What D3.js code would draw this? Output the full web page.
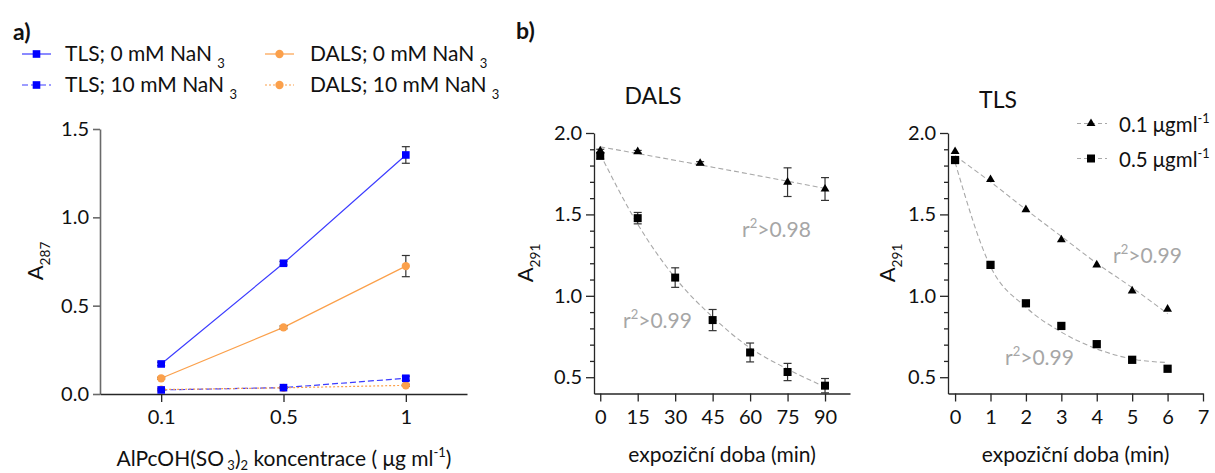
<!DOCTYPE html>
<html>
<head>
<meta charset="utf-8">
<script src="https://cdn.jsdelivr.net/npm/d3@7"></script>
<style>
body { margin: 0; background: #fff; }
svg { display: block; }
text { font-family: Lato, sans-serif; fill: #111; white-space: pre; }
</style>
</head>
<body>
<svg id="chart" width="1215" height="473"></svg>
<script>
// ---- panel a) data ----
const concLabels = ['0.1', '0.5', '1']
const tls0 = [0.17, 0.74, 1.353]
const tls0Err = [0.01, 0.01, 0.047]
const dals0 = [0.089, 0.377, 0.724]
const dals0Err = [0.005, 0.008, 0.06]
const tls10 = [0.023, 0.036, 0.089]
const tls10Err = [0.004, 0.004, 0.012]
const dals10 = [0.025, 0.035, 0.049]
const dals10Err = [0.004, 0.004, 0.006]

// ---- panel b) DALS ----
const dalsTriT = [0, 15, 40, 75, 90]
const dalsTri = [1.89, 1.885, 1.814, 1.698, 1.656]
const dalsTriErr = [0.01, 0.008, 0.01, 0.088, 0.07]
const dalsSqT = [0, 15, 30, 45, 60, 75, 90]
const dalsSq = [1.86, 1.477, 1.112, 0.851, 0.652, 0.532, 0.448]
const dalsSqErr = [0.02, 0.035, 0.06, 0.065, 0.058, 0.053, 0.044]
const dalsTriFitT = [0, 45, 90]
const dalsTriFit = [1.915, 1.79, 1.66]
const dalsSqFit = [1.87, 1.44, 1.11, 0.87, 0.68, 0.55, 0.44]

// ---- panel b) TLS ----
const tlsT = [0, 1, 2, 3, 4, 5, 6]
const tlsTri = [1.886, 1.714, 1.529, 1.344, 1.19, 1.03, 0.918]
const tlsSq = [1.834, 1.19, 0.954, 0.815, 0.703, 0.607, 0.552]
const tlsTriFit = [1.86, 1.70, 1.53, 1.365, 1.20, 1.05, 0.89]
const tlsSqFit = [1.82, 1.18, 0.93, 0.777, 0.674, 0.612, 0.59]

const dalsTicks = [0, 15, 30, 45, 60, 75, 90]
const tlsTicks = [0, 1, 2, 3, 4, 5, 6, 7]
const yMajor = [0.5, 1.0, 1.5, 2.0]
const yMinor = [0.6, 0.7, 0.8, 0.9, 1.1, 1.2, 1.3, 1.4, 1.6, 1.7, 1.8, 1.9]

const BLUE = '#0000ff'
const BLUE_LINE = '#3c3cff'
const ORANGE = '#fba04b'
const FIT = '#a8a8a8'
const AXIS = '#262626'
const ARIAL = '"Liberation Sans", Arial, sans-serif'
const TICK_FONT = 20

const svg = d3.select('#chart')

// text with sub / superscripts
function rich(sel, parts, size, subShift = 0.32) {
  let shift = 0
  parts.forEach(p => {
    const target = p.s === 'sub' ? size * subShift : p.s === 'sup' ? -size * 0.42 : 0
    sel.append('tspan')
      .attr('dy', target - shift)
      .attr('font-size', p.s ? size * 0.62 : size)
      .text(p.t)
    shift = target
  })
  return sel
}

function errBars(g, xs, ys, es, x, y, color) {
  const eb = g.append('g').attr('stroke', color).attr('stroke-width', 1.2)
  xs.forEach((xv, i) => {
    const cx = x(xv)
    const y0 = y(ys[i] - es[i]), y1 = y(ys[i] + es[i])
    eb.append('line').attr('x1', cx).attr('x2', cx).attr('y1', y0).attr('y2', y1)
    eb.append('line').attr('x1', cx - 4).attr('x2', cx + 4).attr('y1', y0).attr('y2', y0)
    eb.append('line').attr('x1', cx - 4).attr('x2', cx + 4).attr('y1', y1).attr('y2', y1)
  })
}

function marks(g, xs, ys, x, y, type, size, color) {
  g.append('g').selectAll('path')
    .data(xs.map((d, i) => [d, ys[i]]))
    .join('path')
    .attr('transform', d => `translate(${x(d[0])},${y(d[1])})`)
    .attr('d', d3.symbol().type(type).size(size))
    .attr('fill', color)
}

function styleAxis(g, size) {
  g.attr('font-family', 'Lato, sans-serif').attr('font-size', size)
  g.selectAll('.domain').attr('stroke', AXIS).attr('stroke-width', 1.3)
  g.selectAll('.tick line').attr('stroke', AXIS).attr('stroke-width', 1.3)
  g.selectAll('.tick text').attr('fill', '#111')
}

// ================= panel a =================
function panelA() {
  const x = d3.scalePoint().domain(concLabels).range([100, 467]).padding(0.5)
  const y = d3.scaleLinear().domain([0, 1.5]).range([394, 129])
  const g = svg.append('g')

  const yAxis = g.append('g').attr('transform', 'translate(100,0)')
    .call(d3.axisLeft(y).tickValues([0, 0.5, 1, 1.5]).tickFormat(d3.format('.1f'))
      .tickSize(7).tickSizeOuter(0).tickPadding(4))
  styleAxis(yAxis, TICK_FONT)
  yAxis.selectAll('.domain, .tick line').attr('stroke', '#6a6a6a').attr('stroke-width', 1.6)

  const xAxis = g.append('g').attr('transform', 'translate(0,394)')
    .call(d3.axisBottom(x).tickSize(8).tickSizeOuter(0).tickPadding(8))
  styleAxis(xAxis, TICK_FONT)

  const series = [
    { v: tls0, e: tls0Err, color: BLUE, line: BLUE_LINE, dash: null, sym: d3.symbolSquare, sz: 58 },
    { v: dals0, e: dals0Err, color: ORANGE, line: ORANGE, dash: null, sym: d3.symbolCircle, sz: 54 },
    { v: tls10, e: tls10Err, color: BLUE, line: BLUE_LINE, dash: '6,3', sym: d3.symbolSquare, sz: 58 },
    { v: dals10, e: dals10Err, color: ORANGE, line: ORANGE, dash: '2,2', sym: d3.symbolCircle, sz: 54 }
  ]
  const line = d3.line().x(d => x(d[0])).y(d => y(d[1]))
  series.forEach(s => {
    g.append('path')
      .datum(concLabels.map((c, i) => [c, s.v[i]]))
      .attr('d', line)
      .attr('fill', 'none')
      .attr('stroke', s.line)
      .attr('stroke-width', 1.2)
      .attr('stroke-dasharray', s.dash)
    errBars(g, concLabels, s.v, s.e, x, y, '#333')
  })
  series.slice().reverse().forEach(s => marks(g, concLabels, s.v, x, y, s.sym, s.sz, s.color))

  // axis titles
  rich(g.append('text').attr('transform', 'translate(43,261) rotate(-90)').attr('text-anchor', 'middle'),
    [{ t: 'A' }, { t: '287', s: 'sub' }], 22)
  rich(g.append('text').attr('x', 284).attr('y', 466).attr('text-anchor', 'middle'),
    [{ t: 'AlPcOH(SO' }, { t: ' 3', s: 'sub' }, { t: ')' }, { t: '2', s: 'sub' },
     { t: ' koncentrace ( μg ml' }, { t: '-1', s: 'sup' }, { t: ')' }], 21, 0.18)

  // legend
  g.append('text').attr('x', 13).attr('y', 40).attr('font-size', 23).attr('font-weight', 'bold').text('a)')
  const legend = [
    { s: series[0], lx: 22, tx: 65, y: 54, label: 'TLS; 0 mM NaN ' },
    { s: series[2], lx: 22, tx: 65, y: 85, label: 'TLS; 10 mM NaN ' },
    { s: series[1], lx: 265, tx: 310, y: 54, label: 'DALS; 0 mM NaN ' },
    { s: series[3], lx: 265, tx: 310, y: 85, label: 'DALS; 10 mM NaN ' }
  ]
  legend.forEach(l => {
    g.append('line').attr('x1', l.lx).attr('x2', l.lx + 29).attr('y1', l.y).attr('y2', l.y)
      .attr('stroke', l.s.line).attr('stroke-width', 1.2).attr('stroke-dasharray', l.s.dash)
    g.append('path').attr('transform', `translate(${l.lx + 14.5},${l.y})`)
      .attr('d', d3.symbol().type(l.s.sym).size(l.s.sz)).attr('fill', l.s.color)
    rich(g.append('text').attr('x', l.tx).attr('y', l.y + 7), [{ t: l.label }, { t: '3', s: 'sub' }], 21)
  })
}

// ================= panel b =================
function decayPanel(opt) {
  const x = d3.scaleLinear().domain(opt.xDomain).range(opt.xRange)
  const y = d3.scaleLinear().domain([0.4, 2.0]).range([393.5, 133])
  const g = svg.append('g')
  const ax = opt.xRange[0]

  const minor = g.append('g').attr('transform', `translate(${ax},0)`)
    .call(d3.axisLeft(y).tickValues(yMinor).tickFormat('').tickSize(4).tickSizeOuter(0))
  minor.select('.domain').remove()
  styleAxis(minor, TICK_FONT)
  const yAxis = g.append('g').attr('transform', `translate(${ax},0)`)
    .call(d3.axisLeft(y).tickValues(yMajor).tickFormat(d3.format('.1f')).tickSize(8).tickSizeOuter(0).tickPadding(4))
  styleAxis(yAxis, TICK_FONT)
  const xAxis = g.append('g').attr('transform', 'translate(0,393.5)')
    .call(d3.axisBottom(x).tickValues(opt.ticks).tickSize(8).tickSizeOuter(0).tickPadding(8))
  styleAxis(xAxis, TICK_FONT)

  const line = d3.line().x(d => x(d[0])).y(d => y(d[1])).curve(d3.curveMonotoneX)
  opt.fits.forEach(f => {
    g.append('path')
      .datum(f.t.map((t, i) => [t, f.v[i]]))
      .attr('d', line)
      .attr('fill', 'none')
      .attr('stroke', FIT)
      .attr('stroke-width', 1.1)
      .attr('stroke-dasharray', '5,3')
  })
  opt.series.forEach(s => {
    if (s.e) errBars(g, s.t, s.v, s.e, x, y, '#333')
    marks(g, s.t, s.v, x, y, s.sym, s.sz, '#000')
  })

  g.append('text').attr('x', opt.titleX).attr('y', opt.titleY).attr('text-anchor', 'middle')
    .attr('font-family', ARIAL).attr('font-size', 23).text(opt.title)
  rich(g.append('text').attr('transform', `translate(${opt.yLabelX},263) rotate(-90)`).attr('text-anchor', 'middle'),
    [{ t: 'A' }, { t: '291', s: 'sub' }], 22)
  g.append('text').attr('x', (opt.xRange[0] + opt.xRange[1]) / 2).attr('y', 462)
    .attr('text-anchor', 'middle').attr('font-size', 21).text('expoziční doba (min)')
  opt.r2.forEach(r => {
    rich(g.append('text').attr('x', r.x).attr('y', r.y).attr('font-family', ARIAL).style('fill', '#a6a6a6'),
      [{ t: 'r' }, { t: '2', s: 'sup' }, { t: r.label }], 21)
  })
  return { x, y, g }
}

function panelB() {
  svg.append('text').attr('x', 516).attr('y', 39).attr('font-size', 23).attr('font-weight', 'bold').text('b)')

  decayPanel({
    xDomain: [-2.5, 100], xRange: [594, 850], ticks: dalsTicks,
    title: 'DALS', titleX: 653, titleY: 104, yLabelX: 533,
    fits: [{ t: dalsTriFitT, v: dalsTriFit }, { t: dalsSqT, v: dalsSqFit }],
    series: [
      { t: dalsTriT, v: dalsTri, e: dalsTriErr, sym: d3.symbolTriangle, sz: 34 },
      { t: dalsSqT, v: dalsSq, e: dalsSqErr, sym: d3.symbolSquare, sz: 64 }
    ],
    r2: [{ x: 742, y: 237, label: '>0.98' }, { x: 623, y: 328, label: '>0.99' }]
  })

  decayPanel({
    xDomain: [-0.2, 7], xRange: [948, 1203], ticks: tlsTicks,
    title: 'TLS', titleX: 998, titleY: 108, yLabelX: 895,
    fits: [{ t: tlsT, v: tlsTriFit }, { t: tlsT, v: tlsSqFit }],
    series: [
      { t: tlsT, v: tlsTri, e: null, sym: d3.symbolTriangle, sz: 34 },
      { t: tlsT, v: tlsSq, e: null, sym: d3.symbolSquare, sz: 68 }
    ],
    r2: [{ x: 1113, y: 263, label: '>0.99' }, { x: 1005, y: 365, label: '>0.99' }]
  })

  // TLS legend
  const leg = svg.append('g')
  const rows = [
    { y: 123.5, sym: d3.symbolTriangle, sz: 34, label: '0.1 ' },
    { y: 158.5, sym: d3.symbolSquare, sz: 64, label: '0.5 ' }
  ]
  rows.forEach(r => {
    leg.append('line').attr('x1', 1077).attr('x2', 1107).attr('y1', r.y).attr('y2', r.y)
      .attr('stroke', FIT).attr('stroke-width', 1.1).attr('stroke-dasharray', '4,3')
    leg.append('path').attr('transform', `translate(1091,${r.y})`)
      .attr('d', d3.symbol().type(r.sym).size(r.sz)).attr('fill', '#000')
    rich(leg.append('text').attr('x', 1119).attr('y', r.y + 8).attr('font-family', ARIAL),
      [{ t: r.label + 'μgml' }, { t: '-1', s: 'sup' }], 20.5)
  })
}

panelA()
panelB()
</script>
</body>
</html>
